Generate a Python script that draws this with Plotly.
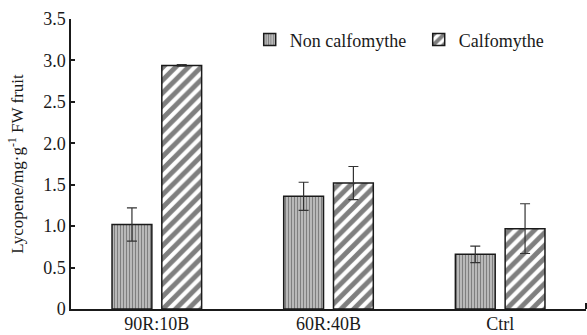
import plotly.graph_objects as go

categories = ["90R:10B", "60R:40B", "Ctrl"]
non_calf = [1.02, 1.36, 0.66]
non_calf_err = [0.20, 0.17, 0.10]
calf = [2.94, 1.52, 0.97]
calf_err = [0.01, 0.20, 0.30]
series_names = ["Non calfomythe", "Calfomythe"]
ytick_vals = [0, 0.5, 1.0, 1.5, 2.0, 2.5, 3.0, 3.5]
ytick_text = ["0", "0.5", "1.0", "1.5", "2.0", "2.5", "3.0", "3.5"]

xpos = list(range(len(categories)))
font = "Liberation Serif, Times New Roman, serif"
ink = "#1a1a1a"
fs = 18

fig = go.Figure()
fig.add_trace(go.Bar(
    x=xpos, y=non_calf, name=series_names[0],
    marker=dict(color="white", line=dict(color=ink, width=1.5),
                pattern=dict(shape="|", fgcolor="#000", bgcolor="white", size=3, solidity=0.7)),
    error_y=dict(type="data", array=non_calf_err, visible=True, color="#333", thickness=1.2, width=5),
))
fig.add_trace(go.Bar(
    x=xpos, y=calf, name=series_names[1],
    marker=dict(color="white", line=dict(color=ink, width=1.5),
                pattern=dict(shape="/", fgcolor="#000", bgcolor="white", size=9, solidity=0.55)),
    error_y=dict(type="data", array=calf_err, visible=True, color="#333", thickness=1.2, width=5),
))

fig.update_layout(
    width=587, height=335,
    margin=dict(l=71, r=1, t=19, b=26, autoexpand=False),
    paper_bgcolor="white", plot_bgcolor="white",
    barmode="group", bargap=0.42, bargroupgap=0.2,
    font=dict(family=font, size=fs, color=ink),
    showlegend=True,
    legend=dict(orientation="h", x=0.347, y=0.928, xanchor="left", yanchor="middle",
                font=dict(family=font, size=fs, color=ink), bgcolor="rgba(0,0,0,0)",
                itemwidth=30, entrywidth=124, entrywidthmode="pixels", traceorder="normal"),
    xaxis=dict(range=[-0.5, 2.5], tickvals=xpos, ticktext=categories, ticks="", ticklen=0,
               automargin=False, ticklabelstandoff=-3,
               showline=True, linecolor=ink, linewidth=2, showgrid=False, zeroline=False,
               tickfont=dict(family=font, size=fs, color=ink),
               minor=dict(tickvals=[2.5], ticks="inside", ticklen=6, tickcolor=ink, tickwidth=1.5)),
    yaxis=dict(range=[0, 3.5], tickvals=ytick_vals, ticktext=ytick_text, ticks="inside",
               ticklen=4, tickwidth=1.5, tickcolor=ink, automargin=False,
               showline=True, linecolor=ink, linewidth=1.5, showgrid=False, zeroline=False,
               tickfont=dict(family=font, size=fs, color=ink),
               title=dict(text="Lycopene/mg·g<sup>-1</sup> FW fruit",
                          font=dict(family=font, size=17, color=ink))),
)

fig.write_html("out.html", config={"displayModeBar": False},
               post_script="document.documentElement.style.margin='0';document.body.style.margin='0';document.body.style.padding='0';")
